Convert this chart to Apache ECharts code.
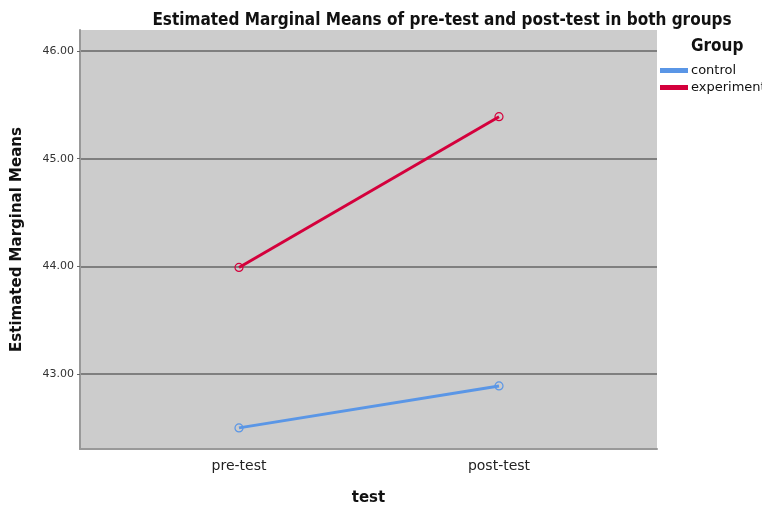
<!DOCTYPE html>
<html>
  <head>
    <meta charset="utf-8">
    <title>Estimated Marginal Means</title>
    <script src="https://cdn.jsdelivr.net/npm/echarts@6/dist/echarts.min.js"></script>
  </head>
  <body style="margin:0;">
    <div id="main" style="width:762px;height:506px;"></div>
    <script type="text/javascript">
      // data
      var categories = ['pre-test', 'post-test'];
      var groups = ['control', 'experiment'];
      var groupColors = ['#5a96e6', '#d4003c'];
      var controlMeans = [42.50, 42.89];
      var experimentMeans = [43.99, 45.39];
      var yTicks = [43, 44, 45, 46];

      function pts(vals) {
        return vals.map(function (v, i) { return [i, v]; });
      }

      function lineSeries(k, vals) {
        return {
          name: groups[k], type: 'line',
          data: pts(vals),
          symbol: 'circle', symbolSize: 8,
          lineStyle: { width: 3, color: groupColors[k] },
          itemStyle: { color: 'rgba(0,0,0,0)', borderColor: groupColors[k], borderWidth: 1.2 }
        };
      }

      var myChart = echarts.init(document.getElementById('main'));
      var cond = 'DejaVu Sans Condensed';
      var sans = 'DejaVu Sans';
      myChart.setOption({
        animation: false,
        title: [{
          text: 'Estimated Marginal Means of pre-test and post-test in both groups',
          left: 437, top: 7, textAlign: 'center',
          textStyle: { fontFamily: cond, fontSize: 17, fontWeight: 'bold', color: '#111' }
        }, {
          text: 'Group',
          left: 686, top: 33,
          textStyle: { fontFamily: cond, fontSize: 17, fontWeight: 'bold', color: '#111' }
        }],
        legend: {
          orient: 'vertical',
          left: 655, top: 59,
          itemGap: 4,
          itemWidth: 26, itemHeight: 3,
          icon: 'rect',
          data: groups.map(function (g, k) {
            return { name: g, itemStyle: { color: groupColors[k] } };
          }),
          textStyle: { fontFamily: sans, fontSize: 13, color: '#111', padding: [0, 0, 0, -1] }
        },
        grid: { left: 80, right: 105, top: 30, bottom: 57, show: true,
          outerBoundsMode: 'none',
          backgroundColor: '#cccccc', borderWidth: 0 },
        xAxis: {
          type: 'value',
          min: -0.6115, max: 1.6077,
          name: 'test', nameLocation: 'middle', nameGap: 42,
          nameTextStyle: { fontFamily: sans, fontSize: 15, fontWeight: 'bold', color: '#111' },
          axisLine: { show: true, onZero: false, lineStyle: { color: '#999', width: 2 } },
          axisTick: { show: false },
          splitLine: { show: false },
          axisLabel: {
            customValues: [0, 1],
            margin: 10,
            fontFamily: sans, fontSize: 14, color: '#222',
            formatter: function (v) { return categories[Math.round(v)]; }
          }
        },
        yAxis: {
          type: 'value',
          min: 42.304, max: 46.195,
          name: 'Estimated Marginal Means', nameLocation: 'middle', nameGap: 55,
          nameTextStyle: { fontFamily: sans, fontSize: 15, fontWeight: 'bold', color: '#111' },
          axisLine: { show: true, onZero: false, lineStyle: { color: '#999', width: 2 } },
          axisTick: { show: true, customValues: yTicks, length: 3, lineStyle: { color: '#666' } },
          splitLine: { show: true, lineStyle: { color: '#666', width: 1.5 } },
          axisLabel: {
            customValues: yTicks,
            margin: 6,
            fontFamily: sans, fontSize: 11, color: '#333',
            formatter: function (v) { return v.toFixed(2); }
          }
        },
        series: [lineSeries(0, controlMeans), lineSeries(1, experimentMeans)]
      });
    </script>
  </body>
</html>
